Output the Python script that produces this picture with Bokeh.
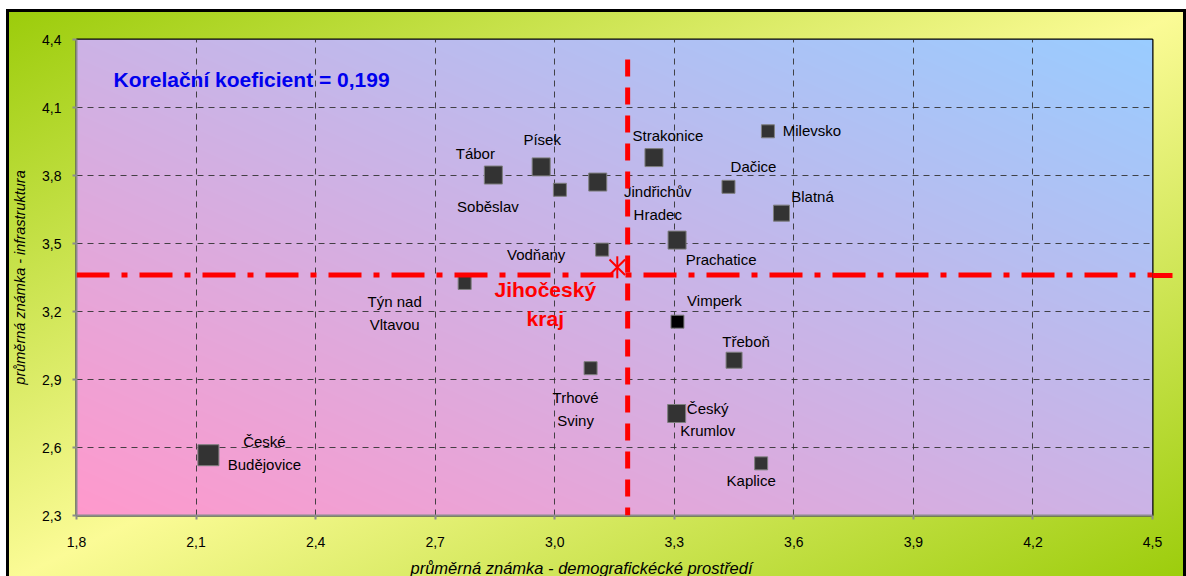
import numpy as np
from bokeh.plotting import figure
from bokeh.models import (ColumnDataSource, FixedTicker, CustomJSTickFormatter, Label, Arrow,
                          Range1d, LinearAxis, Title)
from bokeh.core.properties import value
from bokeh.embed import file_html
from bokeh.resources import INLINE

# ---------------- data ----------------
cities = ["České\nBudějovice", "Tábor", "Písek", "Soběslav", "Jindřichův\nHradec",
          "Strakonice", "Milevsko", "Dačice", "Blatná", "Prachatice", "Vodňany",
          "Týn nad\nVltavou", "Trhové\nSviny", "Vimperk", "Třeboň", "Český\nKrumlov", "Kaplice"]
demografie = [2.131, 2.846, 2.966, 3.013, 3.108, 3.249, 3.535, 3.436, 3.569, 3.307, 3.119,
              2.774, 3.090, 3.308, 3.450, 3.306, 3.518]
infrastruktura = [2.566, 3.802, 3.838, 3.737, 3.771, 3.879, 3.995, 3.750, 3.634, 3.515, 3.473,
                  3.326, 2.950, 3.155, 2.985, 2.750, 2.530]
kraj_name = "Jihočeský\nkraj"
kraj_point = (3.157, 3.395)
kraj_mean_x = 3.183
kraj_mean_y = 3.361
korelace = "Korelační koeficient = 0,199"
x_ticks = [1.8, 2.1, 2.4, 2.7, 3.0, 3.3, 3.6, 3.9, 4.2, 4.5]
y_ticks = [2.3, 2.6, 2.9, 3.2, 3.5, 3.8, 4.1, 4.4]
x_title = "průměrná známka - demografickécké prostředí"
y_title = "průměrná známka - infrastruktura"

# ---------------- styles ----------------
marker_sizes = [21, 18, 18, 13, 18, 18, 13, 13, 16, 18, 13, 13, 13, 13, 16, 18, 13]
marker_fills = ["#333333"] * 13 + ["#000000"] + ["#333333"] * 3
label_dx = [56, -18, 1, -72, 60, 14, 44, 25, 31, 44, -66, -70, -15, 37, 12, 31, -10]
label_dy = [-2, -22, -27, 17, 21, -22, -1, -20, -17, 19, 5, 30, 41, -21, -19, 6, 17]
FONT = "Liberation Sans"

XMIN, XMAX = x_ticks[0], x_ticks[-1]
YMIN, YMAX = y_ticks[0], y_ticks[-1]

p = figure(width=1180, height=567, output_backend="svg", toolbar_location=None,
           x_range=Range1d(XMIN, XMAX), y_range=Range1d(YMIN, YMAX),
           min_border_left=70, min_border_right=34, min_border_top=30, min_border_bottom=61)
p.frame_width = 1076
p.frame_height = 476
p.border_fill_alpha = 0
p.background_fill_alpha = 0
p.outline_line_color = "#000000"
p.outline_line_width = 2
p.styles = {
    "margin-left": "6px",
    "margin-top": "9px",
    "background-image": "linear-gradient(to bottom right, #9bcc0a 0%, #fbfb96 50%, #9bcc0a 100%)",
    "box-shadow": "inset 0 0 0 3px #000000",
}

# plot-area gradient (pink bottom-left -> blue top-right)
nx, ny = 1076, 476
u = np.linspace(0, 1, nx)[None, :]
v = np.linspace(0, 1, ny)[:, None]
t = (u + v) / 2.0
pink = np.array([255, 153, 204], dtype=float)
blue = np.array([153, 204, 255], dtype=float)
img = np.empty((ny, nx), dtype=np.uint32)
view = img.view(dtype=np.uint8).reshape((ny, nx, 4))
for k in range(3):
    view[..., k] = np.round(pink[k] + (blue[k] - pink[k]) * t).astype(np.uint8)
view[..., 3] = 255
p.image_rgba(image=[img], x=XMIN, y=YMIN, dw=XMAX - XMIN, dh=YMAX - YMIN, level="image")

for g, tk in ((p.xgrid[0], x_ticks), (p.ygrid[0], y_ticks)):
    g.grid_line_color = "#333333"
    g.grid_line_width = 1
    g.grid_line_dash = "6 5"
    g.grid_line_alpha = 0.9
    g.ticker = FixedTicker(ticks=tk)

# axes
for ax in (p.xaxis[0], p.yaxis[0]):
    ax.axis_line_color = "#8c8c8c"
    ax.axis_line_width = 2
    ax.major_tick_line_color = "#8c8c8c"
    ax.major_tick_line_width = 2
    ax.major_tick_out = 4
    ax.major_tick_in = 0
    ax.minor_tick_line_color = None
    ax.major_label_text_font = FONT
    ax.major_label_text_font_size = "14px"
    ax.major_label_text_color = "#000000"
    ax.formatter = CustomJSTickFormatter(code="return tick.toFixed(1).replace('.', ',');")
p.xaxis.ticker = FixedTicker(ticks=x_ticks)
p.yaxis.ticker = FixedTicker(ticks=y_ticks)
p.xaxis.major_label_standoff = 17
p.yaxis.major_label_standoff = 11
p.yaxis.axis_label = y_title
p.yaxis.axis_label_text_font = FONT
p.yaxis.axis_label_text_font_size = "14.5px"
p.yaxis.axis_label_text_font_style = "italic"
p.yaxis.axis_label_text_color = "#000000"
p.yaxis.axis_label_standoff = 11

p.add_layout(Title(text=x_title, text_font=FONT, text_font_size="16.5px",
                   text_font_style="italic", text_color="#000000",
                   align="left", offset=334, standoff=14), "below")

# right-hand continuation of the horizontal kraj line (drawn as a single red tick)
ext = LinearAxis(ticker=FixedTicker(ticks=[kraj_mean_y]),
                 formatter=CustomJSTickFormatter(code="return '';"),
                 axis_line_color=None, major_tick_in=0, major_tick_out=20,
                 major_tick_line_color="#ff0000", major_tick_line_width=5,
                 minor_tick_line_color=None)
p.add_layout(ext, "right")

# kraj average lines
p.add_layout(Arrow(start=None, end=None, x_start=XMIN, y_start=kraj_mean_y,
                   x_end=XMAX, y_end=kraj_mean_y, line_color="#ff0000",
                   line_width=5, line_dash="33 12 6 12"))
p.add_layout(Arrow(start=None, end=None, x_start=kraj_mean_x, y_start=4.312,
                   x_end=kraj_mean_x, y_end=YMIN, line_color="#ff0000",
                   line_width=5, line_dash="17 11"))

src = ColumnDataSource(dict(x=demografie, y=infrastruktura, name=cities,
                            size=marker_sizes, fill=marker_fills,
                            dx=label_dx, dy=label_dy))
p.scatter("x", "y", source=src, marker="square", size="size", fill_color="fill",
          line_color="#7f7f7f", line_width=1)
p.text("x", "y", text="name", source=src, x_offset="dx", y_offset="dy",
       text_align="center", text_baseline="middle", text_font=value(FONT),
       text_font_size="15px", text_color="#000000", text_line_height=1.35)

# kraj point
kx, ky = [kraj_point[0]], [kraj_point[1]]
p.scatter(kx, ky, marker="x", size=22, line_color="#ff0000", line_width=2)
p.scatter(kx, ky, marker="dash", angle=np.pi / 2, size=22, line_color="#ff0000", line_width=2)
p.text(kx, ky, text=[kraj_name], x_offset=-72, y_offset=37, text_align="center",
       text_baseline="middle", text_font=value(FONT), text_font_size="21px",
       text_font_style="bold", text_color="#ff0000", text_line_height=1.25)

p.add_layout(Label(x=1.893, y=4.224, text=korelace, text_font=FONT, text_font_size="21px",
                   text_font_style="bold", text_color="#0000ee", text_baseline="middle"))

open("out.html", "w").write(file_html(p, INLINE))
